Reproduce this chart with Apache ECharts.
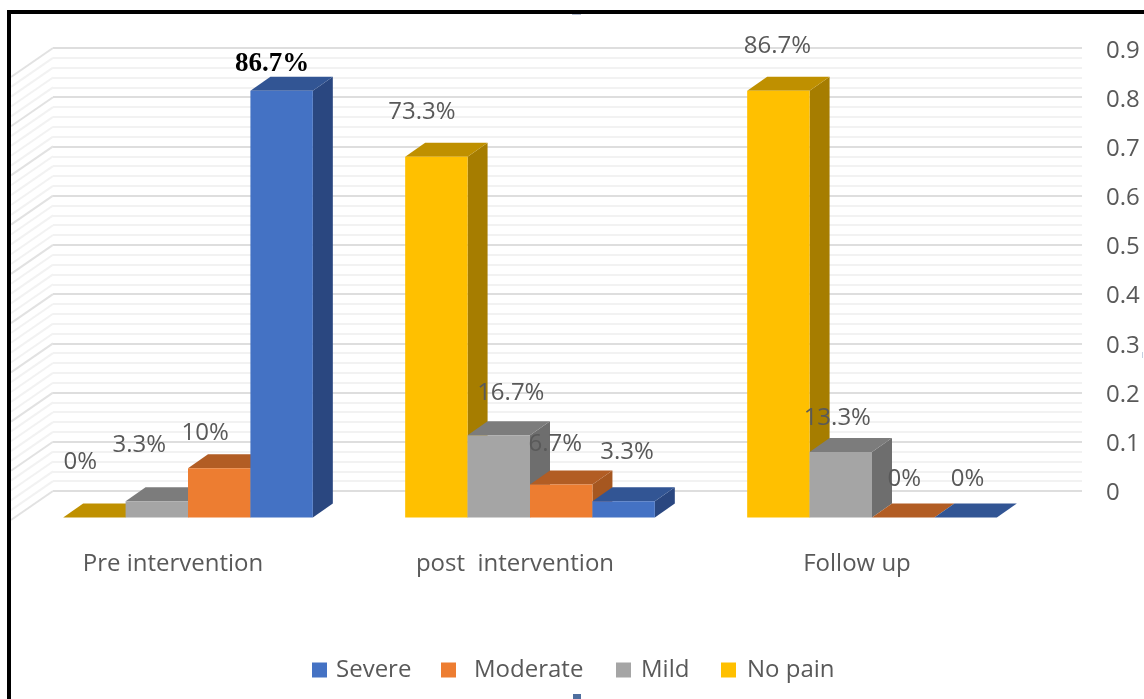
<!DOCTYPE html>
<html>
<head>
<meta charset="utf-8">
<style>html,body{margin:0;padding:0;background:#fff}#chart{width:1144px;height:699px}</style>
<script src="https://cdn.jsdelivr.net/npm/echarts@6/dist/echarts.min.js"></script>
</head>
<body>
<div id="chart"></div>
<script>
// Pain severity at each assessment stage, as proportions of the group.
const categories = ['Pre intervention', 'post  intervention', 'Follow up'];
const severe = [0.867, 0.033, 0];
const moderate = [0.1, 0.067, 0];
const mild = [0.033, 0.167, 0.133];
const noPain = [0, 0.733, 0.867];
const yTicks = ['0', '0.1', '0.2', '0.3', '0.4', '0.5', '0.6', '0.7', '0.8', '0.9'];

// Hand placement of each value label relative to the top of its bar.
const severeLabelShift = [[-9.5, -27], [3.5, -49], [2, -38.5]];
const moderateLabelShift = [[-14, -35], [-6, -40.5], [1, -38.5]];
const mildLabelShift = [[-17.5, -56], [12, -42.5], [-3.5, -34]];
const noPainLabelShift = [[-14, -55.5], [-14.5, -45], [-1, -45]];

// Pseudo-3D extrusion of the bars and of the chart floor.
const BAR_DEPTH_X = 20, BAR_DEPTH_Y = 14;
const WALL_DEPTH_X = 42, WALL_DEPTH_Y = 29;
const GROUP_SHARE = 0.1825;
const TEXT_FONT = '"Open Sans", sans-serif';
const TEXT_COLOR = '#595959';

const percent = v => (Math.round(v * 1000) / 10) + '%';

// Extruded bar: front face, top face and right side, plus its value label.
function barRenderer(slot, shifts, palette, boldFirst) {
  return function (params, api) {
    const idx = api.value(0);
    const value = api.value(1);
    const base = api.coord([idx, 0]);
    const top = api.coord([idx, value]);
    const w = api.size([1, 0])[0] * GROUP_SHARE;
    const x0 = base[0] + (slot - 2) * w;
    const x1 = x0 + w;
    const dx = BAR_DEPTH_X, dy = BAR_DEPTH_Y;
    const bold = boldFirst && idx === 0;
    const children = [
      { type: 'polygon', shape: { points: [[x1, top[1]], [x1 + dx, top[1] - dy], [x1 + dx, base[1] - dy], [x1, base[1]]] }, style: { fill: palette.side } },
      { type: 'polygon', shape: { points: [[x0, top[1]], [x0 + dx, top[1] - dy], [x1 + dx, top[1] - dy], [x1, top[1]]] }, style: { fill: palette.top } },
      { type: 'rect', shape: { x: x0, y: top[1], width: w, height: base[1] - top[1] }, style: { fill: palette.front } },
      {
        type: 'text',
        style: {
          text: percent(value),
          x: (x0 + x1) / 2 + shifts[idx][0],
          y: top[1] + shifts[idx][1],
          align: 'center',
          verticalAlign: 'middle',
          fill: bold ? '#000' : TEXT_COLOR,
          font: bold ? 'bold 27px "Liberation Serif", serif' : '24px ' + TEXT_FONT
        }
      }
    ];
    return { type: 'group', children };
  };
}

function barSeries(name, values, slot, shifts, palette, boldFirst) {
  return {
    name,
    type: 'custom',
    xAxisIndex: 1,
    yAxisIndex: 1,
    z: 3 + slot,
    itemStyle: { color: palette.front },
    encode: { x: 0, y: 1 },
    data: values.map((v, i) => [i, v]),
    renderItem: barRenderer(slot, shifts, palette, boldFirst)
  };
}

// One legend block per entry, since the spacing between entries is uneven.
function legendEntry(name, left, textGap) {
  return {
    left, top: 658, padding: 0, itemWidth: 15, itemHeight: 15, icon: 'rect',
    data: [{ name, textStyle: { padding: [0, 0, 0, textGap] } }],
    textStyle: { color: TEXT_COLOR, fontFamily: TEXT_FONT, fontSize: 24 }
  };
}

// Receding gridlines of the left wall, one per major and minor level.
const wallLevels = [];
for (let i = 0; i <= 45; i++) wallLevels.push([0, i / 50, i % 5 === 0 ? 1 : 0]);

const option = {
  animation: false,
  backgroundColor: '#fff',
  grid: [
    { left: 53, right: 62, top: 48, height: 443 },  // back wall
    { left: 17, width: 1026, top: 74.5, height: 443 },  // front plane holding the bars
    { left: 53, right: 62, top: 51, height: 442 }   // tick labels, set slightly below their lines
  ],
  xAxis: [
    { type: 'category', gridIndex: 0, data: categories, show: false },
    {
      type: 'category', gridIndex: 1, data: categories,
      axisLine: { show: false }, axisTick: { show: false },
      axisLabel: { color: TEXT_COLOR, fontFamily: TEXT_FONT, fontSize: 24, margin: 35, padding: [0, 30, 0, 0], interval: 0 }
    },
    { type: 'category', gridIndex: 2, data: categories, show: false }
  ],
  yAxis: [
    {
      type: 'value', gridIndex: 0, min: 0, max: 0.9, interval: 0.1,
      axisLine: { show: false }, axisTick: { show: false }, axisLabel: { show: false },
      splitLine: { show: true, lineStyle: { color: '#dedede', width: 2 } },
      minorTick: { show: false, splitNumber: 5 },
      minorSplitLine: { show: true, lineStyle: { color: '#f2f2f2', width: 2 } }
    },
    { type: 'value', gridIndex: 1, min: 0, max: 0.9, interval: 0.1, show: false, splitLine: { show: false } },
    {
      type: 'value', gridIndex: 2, position: 'right', min: 0, max: 0.9, interval: 0.1,
      axisLine: { show: false }, axisTick: { show: false }, splitLine: { show: false },
      axisLabel: { color: TEXT_COLOR, fontFamily: TEXT_FONT, fontSize: 24, margin: 24, formatter: (v, i) => yTicks[i] }
    }
  ],
  legend: [
    legendEntry('Severe', 312, 4),
    legendEntry('Moderate', 441, 13),
    legendEntry('Mild', 616, 5),
    legendEntry('No pain', 721, 6)
  ],
  series: [
    {
      name: 'wall',
      type: 'custom',
      xAxisIndex: 0,
      yAxisIndex: 0,
      z: 1,
      silent: true,
      data: wallLevels,
      renderItem(params, api) {
        const p = api.coord([0, api.value(1)]);
        const x = params.coordSys.x;
        return {
          type: 'line',
          shape: { x1: x, y1: p[1], x2: x - WALL_DEPTH_X, y2: p[1] + WALL_DEPTH_Y },
          style: { stroke: api.value(2) ? '#e2e2e2' : '#f2f2f2', lineWidth: 2 }
        };
      }
    },
    barSeries('Severe', severe, 3, severeLabelShift, { front: '#4472C4', top: '#325594', side: '#2A4780' }, true),
    barSeries('Moderate', moderate, 2, moderateLabelShift, { front: '#ED7D31', top: '#B25D24', side: '#A65720' }),
    barSeries('Mild', mild, 1, mildLabelShift, { front: '#A5A5A5', top: '#7C7C7C', side: '#6E6E6E' }),
    barSeries('No pain', noPain, 0, noPainLabelShift, { front: '#FFC000', top: '#BF9000', side: '#A67D00' })
  ],
  graphic: [
    { type: 'rect', z: 20, shape: { x: 7, y: 10, width: 1137, height: 4 }, style: { fill: '#000' } },
    { type: 'rect', z: 20, shape: { x: 7, y: 10, width: 4, height: 689 }, style: { fill: '#000' } },
    { type: 'rect', z: 20, shape: { x: 573, y: 694, width: 8, height: 5 }, style: { fill: '#4F6F9F' } },
    { type: 'rect', z: 20, shape: { x: 572, y: 14, width: 9, height: 1 }, style: { fill: '#B4BDD0' } },
    { type: 'rect', z: 20, shape: { x: 1142, y: 352, width: 1, height: 6 }, style: { fill: '#C5CFE0' } }
  ]
};

echarts.init(document.getElementById('chart'), null, { renderer: 'canvas' }).setOption(option);
</script>
</body>
</html>
